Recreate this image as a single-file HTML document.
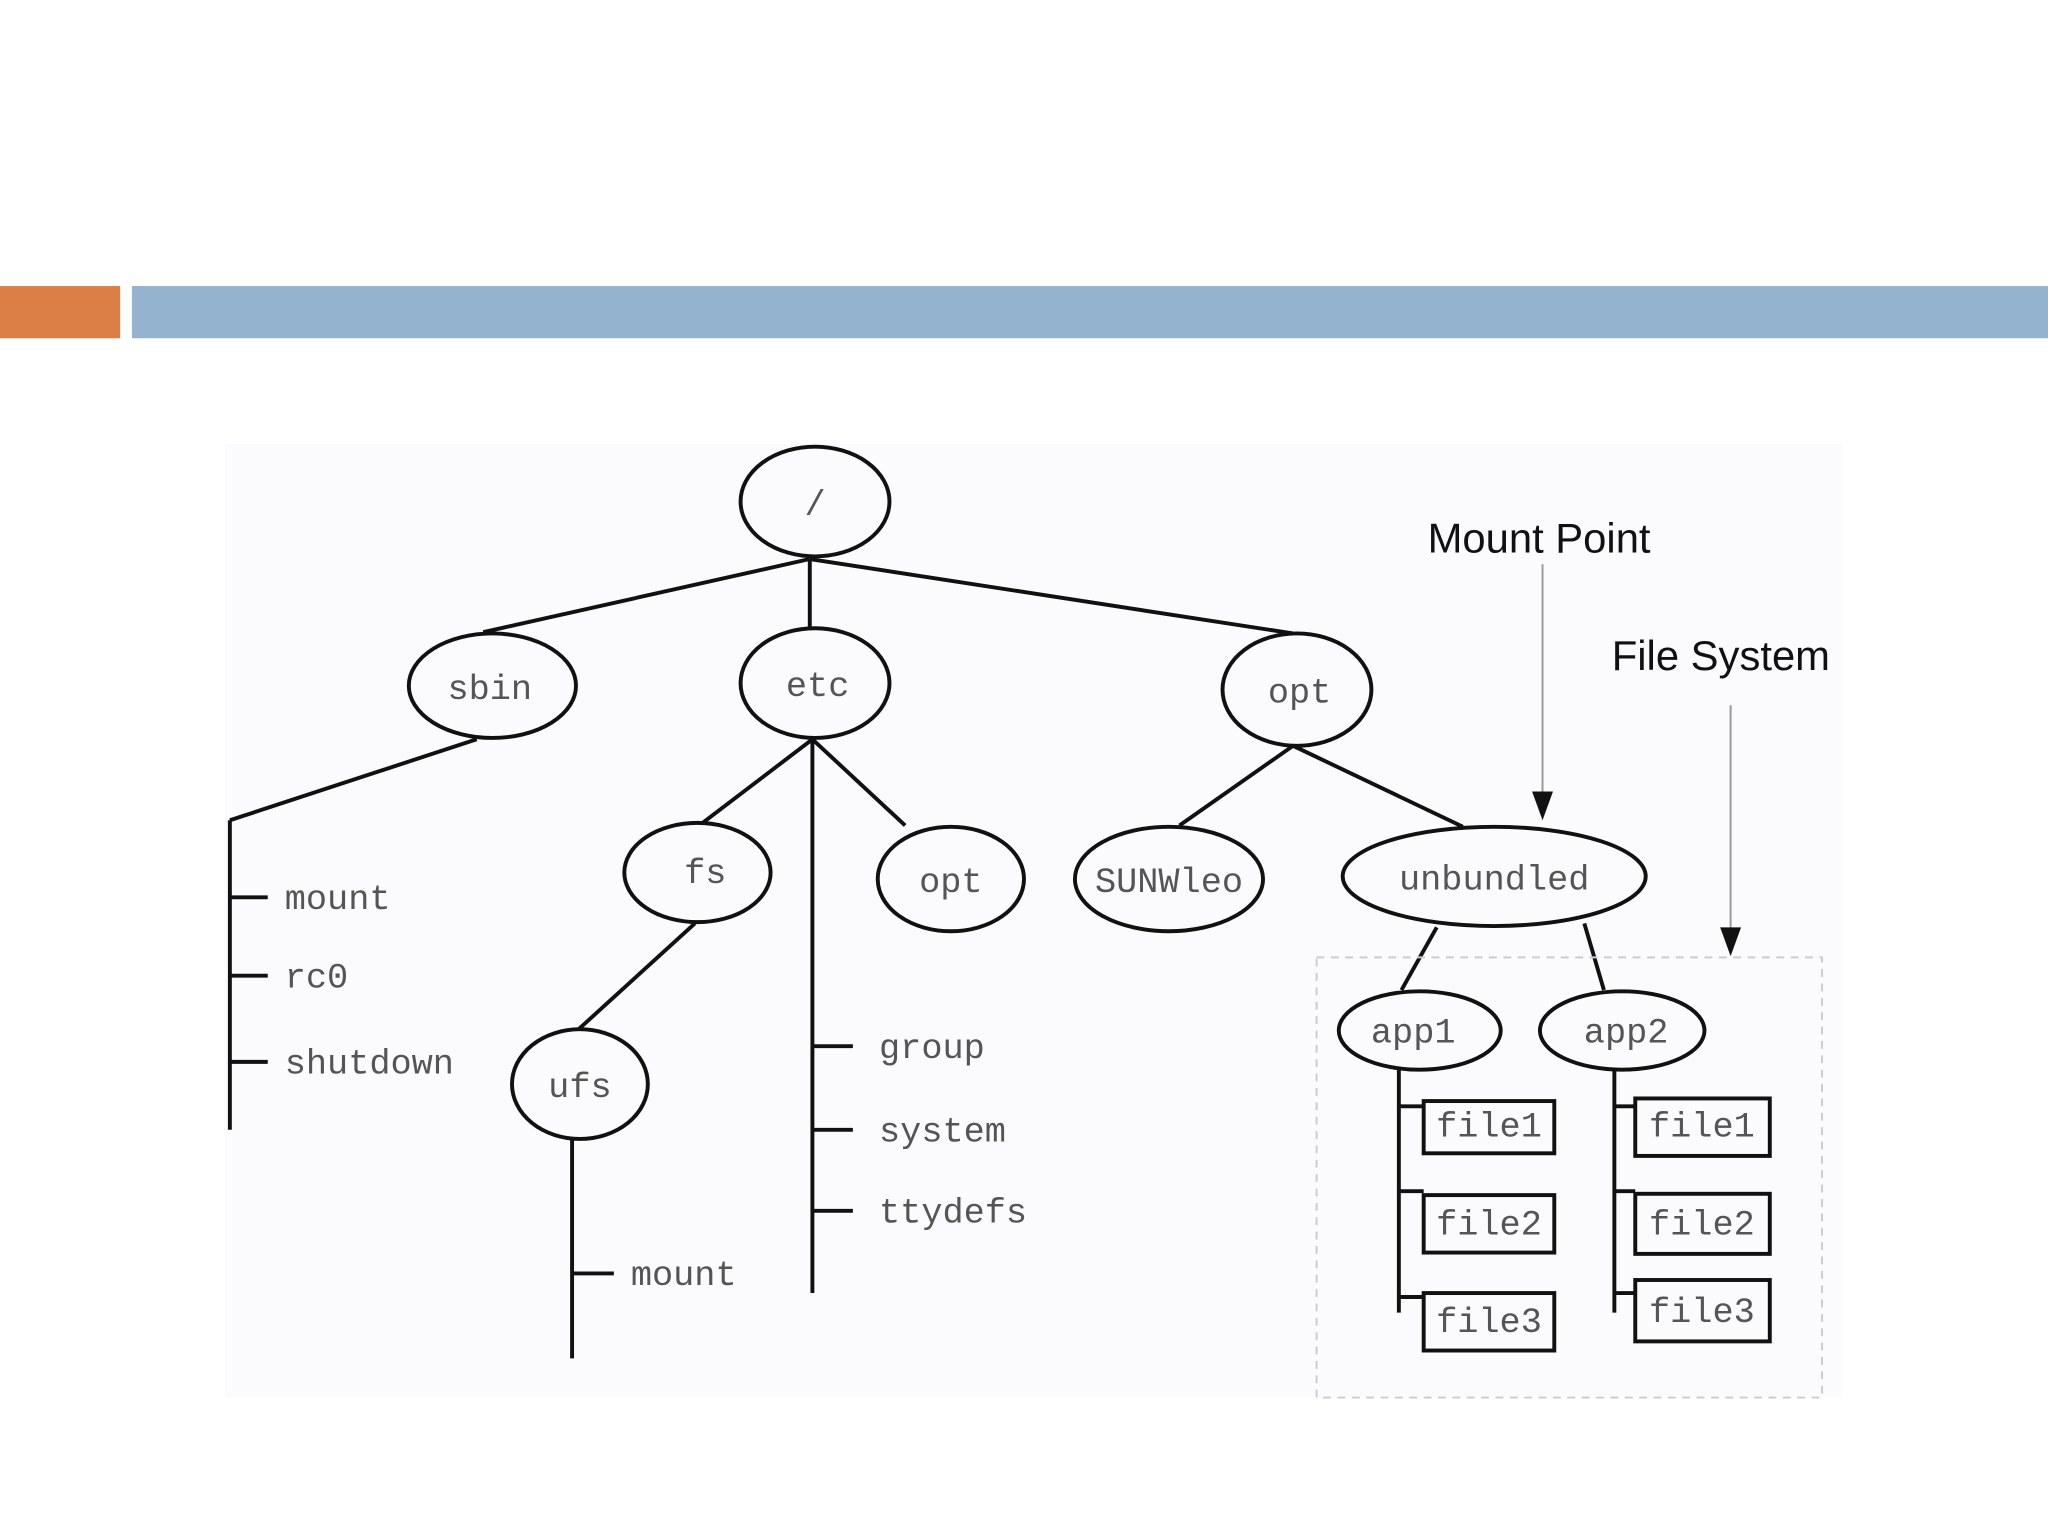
<!DOCTYPE html>
<html><head><meta charset="utf-8"><style>
html,body{margin:0;padding:0;background:#fff;width:2048px;height:1536px;overflow:hidden}
svg{display:block}
.m{font-family:"Liberation Mono",monospace;font-size:27px;fill:#555}
.s{font-family:"Liberation Sans",sans-serif;font-size:32px;fill:#111}
</style></head><body>
<svg width="2048" height="1536" viewBox="0 0 1568 1176" xmlns="http://www.w3.org/2000/svg">
<rect x="0" y="219" width="92" height="40" fill="#dc7f47"/>
<rect x="101" y="219" width="1467" height="40" fill="#93b3cf"/>
<rect x="172" y="340" width="1238" height="730" fill="#fbfbfd"/>
<g stroke="#111" stroke-width="3" fill="none">
<line x1="620" y1="428" x2="370" y2="484"/>
<line x1="620" y1="428" x2="620" y2="483"/>
<line x1="620" y1="428" x2="990" y2="485"/>
<line x1="365" y1="566" x2="176" y2="628"/>
<line x1="176" y1="628" x2="176" y2="865"/>
<line x1="176" y1="687" x2="205" y2="687"/><line x1="176" y1="747" x2="205" y2="747"/><line x1="176" y1="813" x2="205" y2="813"/>
<line x1="622" y1="566" x2="538" y2="630"/>
<line x1="622" y1="566" x2="693" y2="632"/>
<line x1="622" y1="566" x2="622" y2="990"/>
<line x1="622" y1="801" x2="653" y2="801"/><line x1="622" y1="865" x2="653" y2="865"/><line x1="622" y1="927" x2="653" y2="927"/>
<line x1="532" y1="707" x2="443" y2="788"/>
<line x1="438" y1="872" x2="438" y2="1040"/>
<line x1="438" y1="975" x2="470" y2="975"/>
<line x1="990" y1="571" x2="903" y2="632"/>
<line x1="990" y1="571" x2="1120" y2="633"/>
<line x1="1100" y1="710" x2="1073" y2="758"/>
<line x1="1213" y1="707" x2="1228" y2="758"/>
<line x1="1071" y1="819" x2="1071" y2="1005"/>
<line x1="1071" y1="847" x2="1090" y2="847"/><line x1="1071" y1="912" x2="1090" y2="912"/><line x1="1071" y1="993" x2="1090" y2="993"/>
<line x1="1236" y1="819" x2="1236" y2="1005"/>
<line x1="1236" y1="847" x2="1252" y2="847"/><line x1="1236" y1="912" x2="1252" y2="912"/><line x1="1236" y1="990" x2="1252" y2="990"/>
</g>
<g stroke="#111" stroke-width="3" fill="#fbfbfd">
<ellipse cx="624" cy="384" rx="57" ry="42"/>
<ellipse cx="377" cy="525" rx="64" ry="40"/>
<ellipse cx="624" cy="523" rx="57" ry="42"/>
<ellipse cx="993" cy="528" rx="57" ry="43"/>
<ellipse cx="534" cy="668" rx="56" ry="38"/>
<ellipse cx="728" cy="673" rx="56" ry="40"/>
<ellipse cx="895" cy="673" rx="72" ry="40"/>
<ellipse cx="1144" cy="671" rx="116" ry="38"/>
<ellipse cx="444" cy="830" rx="52" ry="42"/>
<ellipse cx="1087" cy="789" rx="62" ry="30"/>
<ellipse cx="1242" cy="789" rx="63" ry="30"/>
<rect x="1090" y="843" width="100" height="40"/>
<rect x="1090" y="915" width="100" height="44"/>
<rect x="1090" y="990" width="100" height="44"/>
<rect x="1252" y="841" width="103" height="44"/>
<rect x="1252" y="914" width="103" height="46"/>
<rect x="1252" y="980" width="103" height="47"/>
</g>
<rect x="1008" y="733" width="387" height="337" fill="none" stroke="#ccc" stroke-width="1.5" stroke-dasharray="6,5"/>
<g stroke="#999" stroke-width="1.5"><line x1="1181" y1="432" x2="1181" y2="610"/><line x1="1325" y1="540" x2="1325" y2="712"/></g>
<polygon points="1173,606 1189,606 1181,628" fill="#111"/>
<polygon points="1317,710 1333,710 1325,732" fill="#111"/>
<g class="m" text-anchor="middle">
<text x="624" y="394">/</text>
<text x="375" y="535">sbin</text>
<text x="626" y="533">etc</text>
<text x="995" y="538">opt</text>
<text x="540" y="676">fs</text>
<text x="728" y="683">opt</text>
<text x="895" y="683">SUNWleo</text>
<text x="1144" y="681">unbundled</text>
<text x="444" y="840">ufs</text>
<text x="1082" y="798">app1</text>
<text x="1245" y="798">app2</text>
<text x="1140" y="870">file1</text>
<text x="1140" y="945">file2</text>
<text x="1140" y="1020">file3</text>
<text x="1303" y="870">file1</text>
<text x="1303" y="945">file2</text>
<text x="1303" y="1012">file3</text>
</g>
<g class="m">
<text x="218" y="696">mount</text>
<text x="218" y="756">rc0</text>
<text x="218" y="822">shutdown</text>
<text x="673" y="810">group</text>
<text x="673" y="874">system</text>
<text x="673" y="936">ttydefs</text>
<text x="483" y="984">mount</text>
</g>
<text class="s" x="1093" y="423">Mount Point</text>
<text class="s" x="1234" y="513">File System</text>
</svg>
</body></html>
